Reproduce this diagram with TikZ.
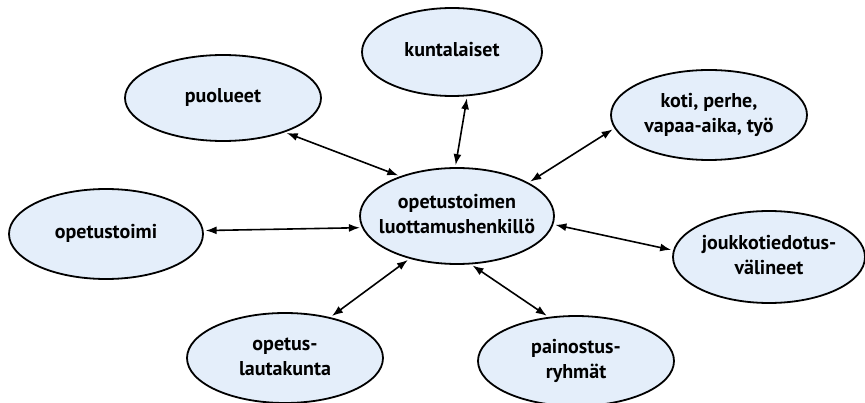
\documentclass[tikz,border=0pt]{standalone}
\usepackage{fontspec}
\setmainfont{PT Sans}
\usetikzlibrary{shapes.geometric,arrows.meta}
\definecolor{bubble}{RGB}{228,238,250}
\newcommand{\zb}[1]{\makebox[0pt][c]{\begin{tabular}{@{}c@{}}#1\end{tabular}}}
\tikzset{
  bubble/.style={ellipse, draw=black, line width=1.8pt, fill=bubble, inner sep=0pt,
    font=\fontsize{20}{25}\selectfont\bfseries},
  link/.style={line width=1.6pt, {Latex[length=11pt,width=8pt]}-{Latex[length=11pt,width=8pt]}, shorten <=2pt, shorten >=2pt}
}
\begin{document}
\begin{tikzpicture}[x=1pt,y=-1pt]
\useasboundingbox (0,0) rectangle (865,403);
\node[bubble, minimum width=196pt, minimum height=86pt] (P) at (223,98) {\zb{puolueet}};
\node[bubble, minimum width=180pt, minimum height=88pt] (K) at (452,52) {\zb{kuntalaiset}};
\node[bubble, minimum width=196pt, minimum height=90pt] (H) at (709,115) {\zb{koti, perhe,\\vapaa-aika, työ}};
\node[bubble, minimum width=194pt, minimum height=90pt] (O) at (106,234) {\zb{opetustoimi}};
\node[bubble, minimum width=194pt, minimum height=96pt] (C) at (457,216) {\zb{opetustoimen\\luottamushenkillö}};
\node[bubble, minimum width=192pt, minimum height=92pt] (J) at (769,257) {\zb{joukkotiedotus-\\välineet}};
\node[bubble, minimum width=196pt, minimum height=90pt] (L) at (285,358) {\zb{opetus-\\lautakunta}};
\node[bubble, minimum width=196pt, minimum height=90pt] (R) at (576,361) {\zb{painostus-\\ryhmät}};
\draw[link] (P.-29) -- (C.145);
\draw[link] (K.-71) -- (C.92);
\draw[link] (H.188) -- (C.25);
\draw[link] (O.2) -- (C.187);
\draw[link] (J.176) -- (C.-5);
\draw[link] (L.42) -- (C.-138);
\draw[link] (R.122) -- (C.-74);
\end{tikzpicture}
\end{document}
